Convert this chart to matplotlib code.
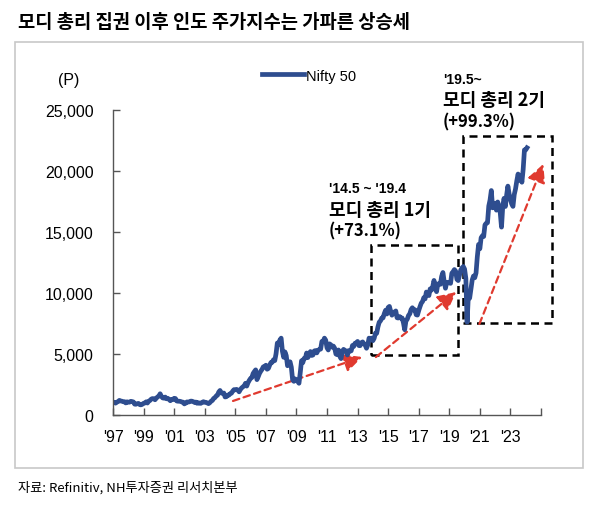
import matplotlib
matplotlib.use("Agg")
import matplotlib.pyplot as plt
from matplotlib.patches import Rectangle, FancyArrowPatch
import numpy as np

# ---------------- data ----------------
start_year = 1997
nifty_monthly = [
    # 1997
    1050, 1040, 970, 1050, 1100, 1200, 1150, 1130, 1090, 1090, 990, 1080,
    # 1998
    1050, 1050, 1120, 1100, 1070, 890, 880, 930, 950, 850, 830, 880,
    # 1999
    960, 980, 1080, 980, 1130, 1190, 1300, 1350, 1330, 1250, 1380, 1480,
    # 2000
    1550, 1740, 1530, 1400, 1380, 1470, 1330, 1370, 1270, 1170, 1270, 1260,
    # 2001
    1370, 1350, 1150, 1130, 1130, 1110, 1070, 1050, 910, 970, 1070, 1060,
    # 2002
    1080, 1140, 1130, 1090, 1030, 1060, 960, 1010, 960, 960, 1040, 1090,
    # 2003
    1040, 1040, 980, 930, 1010, 1130, 1190, 1360, 1420, 1560, 1620, 1880,
    # 2004
    2010, 1800, 1770, 1800, 1480, 1500, 1630, 1630, 1750, 1790, 1960, 2080,
    # 2005
    2060, 2100, 2040, 1900, 2090, 2220, 2310, 2380, 2600, 2370, 2650, 2840,
    # 2006
    3000, 3070, 3400, 3560, 3700, 2900, 3140, 3410, 3590, 3740, 3950, 3970,
    # 2007
    4080, 3750, 3820, 4090, 4300, 4320, 4530, 4460, 5020, 5900, 5760, 6140,
    # 2008
    6300, 5220, 4730, 5170, 4870, 4040, 4330, 4360, 3920, 2890, 2760, 2960,
    # 2009
    2870, 2760, 2600, 3470, 4450, 4290, 4640, 4660, 5080, 4710, 5030, 5200,
    # 2010
    4880, 4920, 5250, 5280, 5090, 5310, 5370, 5400, 6030, 6020, 6300, 6130,
    # 2011
    5510, 5330, 5830, 5750, 5560, 5650, 5480, 5000, 4940, 5330, 4830, 4620,
    # 2012
    5200, 5380, 5300, 5250, 4920, 5280, 5230, 5260, 5700, 5620, 5880, 5910,
    # 2013
    6030, 5690, 5680, 5930, 5990, 5840, 5740, 5470, 5740, 6300, 6180, 6300,
    # 2014
    6090, 6280, 6700, 6700, 7230, 7610, 7720, 7950, 7960, 8320, 8590, 8280,
    # 2015
    8810, 8900, 8490, 8180, 8430, 8370, 8530, 7970, 7950, 8070, 7940, 7950,
    # 2016
    7560, 6990, 7740, 7850, 8160, 8290, 8640, 8790, 8610, 8630, 8220, 8190,
    # 2017
    8560, 8880, 9170, 9300, 9620, 9520, 10080, 9920, 9790, 10340, 10230, 10530,
    # 2018
    11030, 10490, 10110, 10740, 10740, 10710, 11360, 11680, 10930, 10390, 10880, 10860,
    # 2019
    10830, 10790, 11620, 11750, 11920, 11790, 11120, 11020, 11470, 11880, 12060, 12170,
    # 2020
    11960, 11200, 7610, 9860, 9580, 10300, 11070, 11390, 11250, 11640, 12970, 13980,
    # 2021
    13630, 14530, 14690, 14630, 15580, 15720, 15760, 17130, 17620, 18400, 16980, 17350,
    # 2022
    17340, 16790, 17460, 17100, 16580, 15400, 17160, 17760, 17090, 18010, 18760, 18110,
    # 2023
    17660, 17300, 17100, 18070, 18530, 19190, 19750, 19250, 19640, 19080, 20130, 21730,
    # 2024
    21730, 21900,
]

x_ticks = list(range(1997, 2026, 2))
x_ticklabels = ["'97", "'99", "'01", "'03", "'05", "'07", "'09", "'11", "'13",
                "'15", "'17", "'19", "'21", "'23", ""]
y_ticks = [0, 5000, 10000, 15000, 20000, 25000]
y_ticklabels = ["0", "5,000", "10,000", "15,000", "20,000", "25,000"]

series_name = "Nifty 50"
title = "모디 총리 집권 이후 인도 주가지수는 가파른 상승세"
source = "자료: Refinitiv, NH투자증권 리서치본부"
term1_period = "'14.5 ~ '19.4"
term1_name = "모디 총리 1기"
term1_gain = "(+73.1%)"
term2_period = "'19.5~"
term2_name = "모디 총리 2기"
term2_gain = "(+99.3%)"

# ---------------- plot ----------------
KR = ["Noto Sans CJK KR", "DejaVu Sans"]
NUM = ["Liberation Sans", "DejaVu Sans"]

W, H = 597, 506
fig = plt.figure(figsize=(W / 100, H / 100), dpi=100)

# outer light-gray frame
fig.patches.append(Rectangle((15 / W, 1 - 469 / H), (583 - 15) / W, (469 - 43) / H,
                             transform=fig.transFigure, fill=False,
                             edgecolor="#c8c8c8", linewidth=1.2))

ax = fig.add_axes([113 / W, 1 - 416 / H, (541 - 113) / W, (416 - 111) / H])

t = start_year + np.arange(len(nifty_monthly)) / 12.0
line_color = "#2e4d8f"
ax.plot(t, nifty_monthly, color=line_color, linewidth=3.4, solid_joinstyle="round",
        label=series_name)

ax.set_xlim(1997, 2025)
ax.set_ylim(0, 25000)
for s in ["top", "right"]:
    ax.spines[s].set_visible(False)
for s in ["left", "bottom"]:
    ax.spines[s].set_color("#555555")
    ax.spines[s].set_linewidth(1.0)

ax.set_xticks(x_ticks)
ax.set_xticklabels(x_ticklabels, family=NUM, fontsize=11.5)
ax.set_yticks(y_ticks)
ax.set_yticklabels(y_ticklabels, family=NUM, fontsize=11.5)
ax.tick_params(axis="both", direction="in", length=5, width=1.0, color="#555555")
ax.tick_params(axis="y", pad=14)
ax.tick_params(axis="x", pad=10)

# "(P)" unit label
fig.text(69 / W, 1 - 80 / H, "(P)", family=NUM, fontsize=11.5, ha="center", va="center")

# legend
ax.legend(loc="upper left", bbox_to_anchor=(0.334, 1.155), frameon=False,
          prop={"family": NUM, "size": 10.5}, handlelength=2.9, handletextpad=0.1,
          borderaxespad=0)

# dashed boxes
box_kw = dict(fill=False, edgecolor="black", linestyle=(0, (3.2, 2.2)), linewidth=1.8,
              clip_on=False)
ax.add_patch(Rectangle((2013.9, 4920), 2019.6 - 2013.9, 13930 - 4920, **box_kw))
ax.add_patch(Rectangle((2019.9, 7540), 2025.7 - 2019.9, 22870 - 7540, **box_kw))

# red dashed arrows
arrow_kw = dict(arrowstyle="-|>,head_length=1.0,head_width=0.5", color="#e03a2f",
                linestyle=(0, (3, 2)), linewidth=1.6, mutation_scale=11, clip_on=False,
                shrinkA=0, shrinkB=0)
for (x0, y0, x1, y1) in [(2004.85, 1150, 2013.3, 4750),
                         (2014.2, 4750, 2019.45, 10080),
                         (2020.97, 7460, 2025.15, 20570)]:
    ax.add_patch(FancyArrowPatch((x0, y0), (x1, y1), **arrow_kw))

# annotations
def annot(x, y_period, period, name, gain):
    fig.text(x / W, 1 - y_period / H, period, family=NUM, fontsize=10,
             fontweight="bold", ha="left", va="center")
    fig.text(x / W, 1 - (y_period + 21) / H, name, family=KR, fontsize=13,
             fontweight="bold", ha="left", va="center")
    fig.text(x / W, 1 - (y_period + 42) / H, gain, family=KR, fontsize=12,
             fontweight="bold", ha="left", va="center")

annot(329, 189, term1_period, term1_name, term1_gain)
annot(443, 80, term2_period, term2_name, term2_gain)

# title & source
fig.text(18 / W, 1 - 22 / H, title, family=KR, fontsize=13.5, fontweight="bold",
         ha="left", va="center")
fig.text(18 / W, 1 - 488 / H, source, family=KR, fontsize=9.5, ha="left", va="center")

fig.savefig("out.png", dpi=100)
